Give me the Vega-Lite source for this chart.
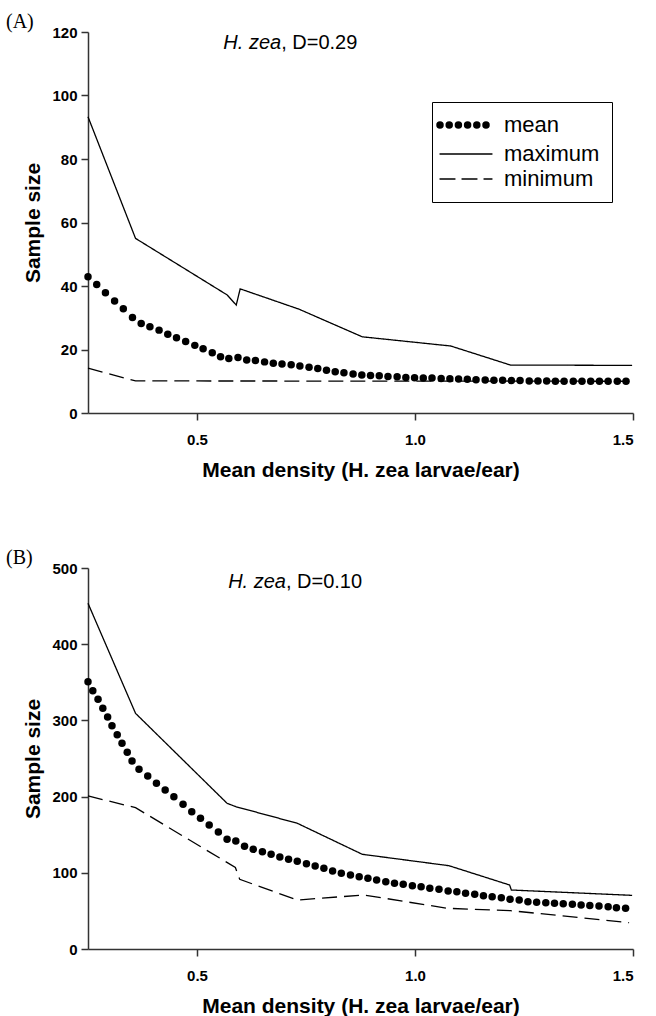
{
  "$schema": "https://vega.github.io/schema/vega-lite/v6.json",
  "background": "white",
  "padding": {"left": 5, "top": 12, "right": 5, "bottom": 0},
  "spacing": 68,
  "config": {
    "view": {"stroke": null},
    "font": "Liberation Sans",
    "axis": {
      "grid": false,
      "domainColor": "#333333",
      "domainWidth": 1.5,
      "tickColor": "#333333",
      "tickWidth": 1.5,
      "tickSize": 7,
      "labelFont": "Liberation Sans",
      "labelFontSize": 15,
      "labelFontWeight": "bold",
      "labelColor": "black",
      "titleFont": "Liberation Sans",
      "titleFontSize": 21,
      "titleFontWeight": "bold",
      "titleColor": "black"
    },
    "axisX": {"labelPadding": 12, "titlePadding": 12},
    "axisY": {"labelPadding": 4, "titlePadding": 8},
    "title": {"font": "Liberation Serif", "fontSize": 20, "fontWeight": "normal", "color": "black", "anchor": "start", "frame": "bounds", "dx": -17, "offset": -7}
  },
  "datasets": {
    "A": [
      {"x":0.250,"n":42.9,"s":"mean"},{"x":0.270,"n":40.5,"s":"mean"},{"x":0.290,"n":37.9,"s":"mean"},{"x":0.311,"n":35.3,"s":"mean"},{"x":0.331,"n":32.8,"s":"mean"},{"x":0.352,"n":30.1,"s":"mean"},{"x":0.372,"n":28.2,"s":"mean"},{"x":0.392,"n":27.2,"s":"mean"},{"x":0.413,"n":26.1,"s":"mean"},{"x":0.433,"n":24.8,"s":"mean"},{"x":0.453,"n":23.7,"s":"mean"},{"x":0.474,"n":22.5,"s":"mean"},{"x":0.495,"n":21.3,"s":"mean"},{"x":0.514,"n":20.2,"s":"mean"},{"x":0.535,"n":19.0,"s":"mean"},{"x":0.554,"n":17.7,"s":"mean"},{"x":0.573,"n":17.2,"s":"mean"},{"x":0.594,"n":17.5,"s":"mean"},{"x":0.614,"n":16.7,"s":"mean"},{"x":0.634,"n":16.5,"s":"mean"},{"x":0.655,"n":16.1,"s":"mean"},{"x":0.675,"n":15.7,"s":"mean"},{"x":0.695,"n":15.4,"s":"mean"},{"x":0.716,"n":15.2,"s":"mean"},{"x":0.736,"n":14.8,"s":"mean"},{"x":0.757,"n":14.4,"s":"mean"},{"x":0.777,"n":14.0,"s":"mean"},{"x":0.797,"n":13.5,"s":"mean"},
      {"x":0.817,"n":13.0,"s":"mean"},{"x":0.837,"n":12.7,"s":"mean"},{"x":0.858,"n":12.3,"s":"mean"},{"x":0.878,"n":12.0,"s":"mean"},{"x":0.898,"n":11.8,"s":"mean"},{"x":0.918,"n":11.7,"s":"mean"},{"x":0.938,"n":11.5,"s":"mean"},{"x":0.959,"n":11.4,"s":"mean"},{"x":0.979,"n":11.2,"s":"mean"},{"x":0.999,"n":11.1,"s":"mean"},{"x":1.019,"n":11.0,"s":"mean"},{"x":1.039,"n":11.0,"s":"mean"},{"x":1.060,"n":10.9,"s":"mean"},{"x":1.080,"n":10.8,"s":"mean"},{"x":1.100,"n":10.7,"s":"mean"},{"x":1.120,"n":10.6,"s":"mean"},{"x":1.140,"n":10.5,"s":"mean"},{"x":1.161,"n":10.4,"s":"mean"},{"x":1.181,"n":10.3,"s":"mean"},{"x":1.201,"n":10.3,"s":"mean"},{"x":1.221,"n":10.2,"s":"mean"},{"x":1.241,"n":10.2,"s":"mean"},{"x":1.262,"n":10.1,"s":"mean"},{"x":1.282,"n":10.1,"s":"mean"},{"x":1.302,"n":10.1,"s":"mean"},{"x":1.322,"n":10.0,"s":"mean"},{"x":1.342,"n":10.0,"s":"mean"},{"x":1.363,"n":10.0,"s":"mean"},{"x":1.383,"n":10.0,"s":"mean"},{"x":1.403,"n":10.0,"s":"mean"},{"x":1.423,"n":10.0,"s":"mean"},{"x":1.443,"n":10.0,"s":"mean"},{"x":1.464,"n":10.0,"s":"mean"},{"x":1.484,"n":10.0,"s":"mean"},
      {"x":0.250,"n":93.3,"s":"maximum"},{"x":0.359,"n":55.0,"s":"maximum"},{"x":0.569,"n":37.2,"s":"maximum"},{"x":0.590,"n":34.0,"s":"maximum"},{"x":0.599,"n":39.1,"s":"maximum"},{"x":0.734,"n":32.7,"s":"maximum"},{"x":0.879,"n":24.0,"s":"maximum"},{"x":1.082,"n":21.1,"s":"maximum"},{"x":1.219,"n":15.1,"s":"maximum"},{"x":1.498,"n":15.0,"s":"maximum"},
      {"x":0.250,"n":14.1,"s":"minimum"},{"x":0.359,"n":10.1,"s":"minimum"},{"x":1.484,"n":10.0,"s":"minimum"}
    ],
    "B": [
      {"x":0.250,"n":350.8,"s":"mean"},{"x":0.261,"n":338.9,"s":"mean"},{"x":0.273,"n":327.7,"s":"mean"},{"x":0.284,"n":315.9,"s":"mean"},{"x":0.295,"n":304.5,"s":"mean"},{"x":0.305,"n":293.0,"s":"mean"},{"x":0.317,"n":281.2,"s":"mean"},{"x":0.328,"n":269.9,"s":"mean"},{"x":0.340,"n":258.1,"s":"mean"},{"x":0.351,"n":246.7,"s":"mean"},{"x":0.367,"n":235.8,"s":"mean"},{"x":0.387,"n":227.0,"s":"mean"},{"x":0.407,"n":217.4,"s":"mean"},{"x":0.427,"n":208.7,"s":"mean"},{"x":0.447,"n":199.9,"s":"mean"},{"x":0.468,"n":189.9,"s":"mean"},{"x":0.488,"n":180.2,"s":"mean"},{"x":0.508,"n":171.5,"s":"mean"},{"x":0.528,"n":162.7,"s":"mean"},{"x":0.549,"n":153.5,"s":"mean"},{"x":0.569,"n":143.9,"s":"mean"},{"x":0.589,"n":141.7,"s":"mean"},{"x":0.609,"n":134.8,"s":"mean"},{"x":0.629,"n":130.8,"s":"mean"},{"x":0.650,"n":127.7,"s":"mean"},{"x":0.670,"n":124.3,"s":"mean"},{"x":0.690,"n":120.7,"s":"mean"},{"x":0.710,"n":117.7,"s":"mean"},{"x":0.730,"n":115.1,"s":"mean"},{"x":0.751,"n":111.9,"s":"mean"},{"x":0.771,"n":108.9,"s":"mean"},{"x":0.791,"n":105.9,"s":"mean"},
      {"x":0.811,"n":102.4,"s":"mean"},{"x":0.831,"n":99.3,"s":"mean"},{"x":0.852,"n":97.1,"s":"mean"},{"x":0.872,"n":94.9,"s":"mean"},{"x":0.892,"n":92.7,"s":"mean"},{"x":0.912,"n":90.6,"s":"mean"},{"x":0.933,"n":88.3,"s":"mean"},{"x":0.953,"n":86.2,"s":"mean"},{"x":0.973,"n":84.9,"s":"mean"},{"x":0.994,"n":83.1,"s":"mean"},{"x":1.014,"n":81.8,"s":"mean"},{"x":1.034,"n":79.6,"s":"mean"},{"x":1.055,"n":78.3,"s":"mean"},{"x":1.076,"n":76.1,"s":"mean"},{"x":1.096,"n":75.2,"s":"mean"},{"x":1.116,"n":73.1,"s":"mean"},{"x":1.137,"n":71.8,"s":"mean"},{"x":1.157,"n":70.0,"s":"mean"},{"x":1.177,"n":68.6,"s":"mean"},{"x":1.198,"n":67.3,"s":"mean"},{"x":1.218,"n":65.2,"s":"mean"},{"x":1.239,"n":64.3,"s":"mean"},{"x":1.259,"n":62.1,"s":"mean"},{"x":1.279,"n":61.3,"s":"mean"},{"x":1.300,"n":60.6,"s":"mean"},{"x":1.320,"n":60.0,"s":"mean"},{"x":1.340,"n":59.4,"s":"mean"},{"x":1.361,"n":58.7,"s":"mean"},{"x":1.381,"n":57.7,"s":"mean"},{"x":1.401,"n":57.2,"s":"mean"},{"x":1.422,"n":56.4,"s":"mean"},{"x":1.443,"n":55.5,"s":"mean"},{"x":1.462,"n":54.2,"s":"mean"},{"x":1.483,"n":53.4,"s":"mean"},
      {"x":0.250,"n":453.7,"s":"maximum"},{"x":0.359,"n":309.3,"s":"maximum"},{"x":0.569,"n":191.2,"s":"maximum"},{"x":0.589,"n":186.8,"s":"maximum"},{"x":0.730,"n":165.0,"s":"maximum"},{"x":0.879,"n":124.3,"s":"maximum"},{"x":1.078,"n":109.3,"s":"maximum"},{"x":1.217,"n":84.0,"s":"maximum"},{"x":1.221,"n":77.4,"s":"maximum"},{"x":1.498,"n":70.4,"s":"maximum"},
      {"x":0.250,"n":200.8,"s":"minimum"},{"x":0.359,"n":185.5,"s":"minimum"},{"x":0.588,"n":107.0,"s":"minimum"},{"x":0.598,"n":91.4,"s":"minimum"},{"x":0.730,"n":64.3,"s":"minimum"},{"x":0.883,"n":70.9,"s":"minimum"},{"x":1.074,"n":53.4,"s":"minimum"},{"x":1.219,"n":50.3,"s":"minimum"},{"x":1.491,"n":34.6,"s":"minimum"}
    ],
    "labels": [
      {"panel":"A","species":"H. zea","d":", D=0.29","x":0.693,"y":114.5},
      {"panel":"B","species":"H. zea","d":", D=0.10","x":0.704,"y":474}
    ]
  },
  "vconcat": [
    {
      "title": {"text": "(A)"},
      "width": 545,
      "height": 381,
      "layer": [
        {
          "data": {"name": "A"},
          "transform": [{"filter": "datum.s !== 'mean'"}],
          "mark": {"type": "line", "color": "black", "strokeWidth": 1.3},
          "encoding": {
            "x": {"field": "x", "type": "quantitative", "scale": {"domain": [0.25, 1.5], "nice": false, "zero": false}, "axis": {"values": [0.5, 1, 1.5], "format": ".1f", "title": "Mean density (H. zea larvae/ear)"}},
            "y": {"field": "n", "type": "quantitative", "scale": {"domain": [0, 120], "nice": false}, "axis": {"values": [0, 20, 40, 60, 80, 100, 120], "title": "Sample size"}},
            "strokeDash": {
              "field": "s", "type": "nominal",
              "scale": {"domain": ["mean", "maximum", "minimum"], "range": [[0, 9.2], [1, 0], [15, 7]]},
              "legend": {
                "orient": "none", "legendX": 344, "legendY": 70, "title": null,
                "strokeColor": "black", "fillColor": "white", "padding": 12,
                "labelFont": "Liberation Sans", "labelFontSize": 22, "labelColor": "black", "labelOffset": 27,
                "symbolType": "stroke", "symbolSize": 2704, "symbolStrokeColor": "black", "symbolStrokeWidth": 1.3, "symbolOffset": 11,
                "rowPadding": 3,
                "encode": {"symbols": {"update": {"strokeWidth": {"signal": "datum.value === 'mean' ? 7.5 : 1.3"}, "strokeCap": {"value": "round"}}}}
              }
            }
          }
        },
        {
          "data": {"name": "A"},
          "transform": [{"filter": "datum.s === 'mean'"}],
          "mark": {"type": "point", "filled": true, "color": "black", "size": 56, "opacity": 1},
          "encoding": {
            "x": {"field": "x", "type": "quantitative"},
            "y": {"field": "n", "type": "quantitative"}
          }
        },
        {
          "data": {"name": "labels"},
          "transform": [{"filter": "datum.panel === 'A'"}],
          "mark": {"type": "text", "align": "right", "baseline": "alphabetic", "fontStyle": "italic", "fontSize": 20, "font": "Liberation Sans", "color": "black"},
          "encoding": {"x": {"field": "x", "type": "quantitative"}, "y": {"field": "y", "type": "quantitative"}, "text": {"field": "species"}}
        },
        {
          "data": {"name": "labels"},
          "transform": [{"filter": "datum.panel === 'A'"}],
          "mark": {"type": "text", "align": "left", "baseline": "alphabetic", "fontSize": 20, "font": "Liberation Sans", "color": "black"},
          "encoding": {"x": {"field": "x", "type": "quantitative"}, "y": {"field": "y", "type": "quantitative"}, "text": {"field": "d"}}
        }
      ]
    },
    {
      "title": {"text": "(B)"},
      "width": 545,
      "height": 381,
      "layer": [
        {
          "data": {"name": "B"},
          "transform": [{"filter": "datum.s !== 'mean'"}],
          "mark": {"type": "line", "color": "black", "strokeWidth": 1.3},
          "encoding": {
            "x": {"field": "x", "type": "quantitative", "scale": {"domain": [0.25, 1.5], "nice": false, "zero": false}, "axis": {"values": [0.5, 1, 1.5], "format": ".1f", "title": "Mean density (H. zea larvae/ear)"}},
            "y": {"field": "n", "type": "quantitative", "scale": {"domain": [0, 500], "nice": false}, "axis": {"values": [0, 100, 200, 300, 400, 500], "title": "Sample size"}},
            "strokeDash": {
              "field": "s", "type": "nominal",
              "scale": {"domain": ["mean", "maximum", "minimum"], "range": [[0, 9.2], [1, 0], [15, 7]]},
              "legend": {
                "orient": "none", "legendX": 351, "legendY": 29, "title": null,
                "strokeColor": "black", "fillColor": "white", "padding": 12,
                "labelFont": "Liberation Sans", "labelFontSize": 22, "labelColor": "black", "labelOffset": 27,
                "symbolType": "stroke", "symbolSize": 2704, "symbolStrokeColor": "black", "symbolStrokeWidth": 1.3, "symbolOffset": 11,
                "rowPadding": 3,
                "encode": {"symbols": {"update": {"strokeWidth": {"signal": "datum.value === 'mean' ? 7.5 : 1.3"}, "strokeCap": {"value": "round"}}}}
              }
            }
          }
        },
        {
          "data": {"name": "B"},
          "transform": [{"filter": "datum.s === 'mean'"}],
          "mark": {"type": "point", "filled": true, "color": "black", "size": 56, "opacity": 1},
          "encoding": {
            "x": {"field": "x", "type": "quantitative"},
            "y": {"field": "n", "type": "quantitative"}
          }
        },
        {
          "data": {"name": "labels"},
          "transform": [{"filter": "datum.panel === 'B'"}],
          "mark": {"type": "text", "align": "right", "baseline": "alphabetic", "fontStyle": "italic", "fontSize": 20, "font": "Liberation Sans", "color": "black"},
          "encoding": {"x": {"field": "x", "type": "quantitative"}, "y": {"field": "y", "type": "quantitative"}, "text": {"field": "species"}}
        },
        {
          "data": {"name": "labels"},
          "transform": [{"filter": "datum.panel === 'B'"}],
          "mark": {"type": "text", "align": "left", "baseline": "alphabetic", "fontSize": 20, "font": "Liberation Sans", "color": "black"},
          "encoding": {"x": {"field": "x", "type": "quantitative"}, "y": {"field": "y", "type": "quantitative"}, "text": {"field": "d"}}
        }
      ]
    }
  ]
}
